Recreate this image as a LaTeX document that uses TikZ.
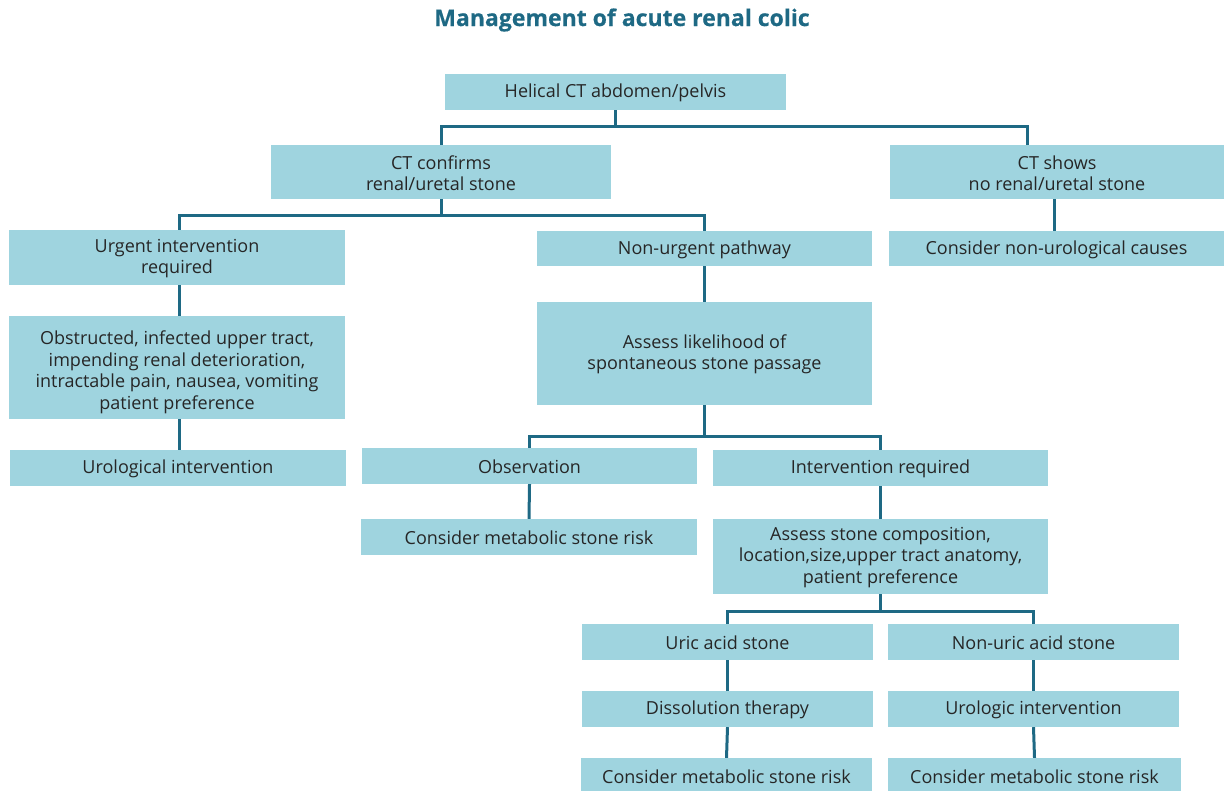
\documentclass[tikz,border=0pt]{standalone}
\usepackage{fontspec}
\setmainfont{Open Sans}
\definecolor{boxc}{HTML}{9FD4DF}
\definecolor{linec}{HTML}{1E6984}
\definecolor{txtc}{HTML}{262626}
\begin{document}
\begin{tikzpicture}[x=1pt,y=-1pt,
  box/.style={fill=boxc, draw=none, inner sep=0pt},
  txt/.style={inner sep=0pt, align=center, text=txtc, yshift=-1pt,
    font=\fontsize{18}{21.5}\selectfont},
  conn/.style={draw=linec, line width=3pt}]
\useasboundingbox (0,0) rectangle (1225,790);
\node[font=\bfseries\addfontfeature{FakeBold=0.4}\fontsize{23}{26}\selectfont, text=linec] (title) at (622,20) {Management of acute renal colic};
\node[box, minimum width=341pt, minimum height=36pt, label={[txt]center:{Helical CT abdomen/pelvis}}] (helical) at (615.5,92) {};
\node[box, minimum width=340pt, minimum height=54pt, label={[txt]center:{CT confirms\\renal/uretal stone}}] (confirms) at (441,172) {};
\node[box, minimum width=334pt, minimum height=54pt, label={[txt]center:{CT shows\\no renal/uretal stone}}] (noct) at (1057,172) {};
\node[box, minimum width=336pt, minimum height=55pt, label={[txt]center:{Urgent intervention\\required}}] (urgent) at (177,257.5) {};
\node[box, minimum width=335pt, minimum height=35pt, label={[txt]center:{Non-urgent pathway}}] (nonurg) at (704.5,248.5) {};
\node[box, minimum width=335pt, minimum height=35pt, label={[txt]center:{Consider non-urological causes}}] (nonuro) at (1056.5,248.5) {};
\node[box, minimum width=336pt, minimum height=103pt, label={[txt, yshift=-4pt]center:{Obstructed, infected upper tract,\\impending renal deterioration,\\intractable pain, nausea, vomiting\\patient preference}}] (obstr) at (177,367.5) {};
\node[box, minimum width=336pt, minimum height=36pt, label={[txt]center:{Urological intervention}}] (urolog) at (178,468) {};
\node[box, minimum width=335pt, minimum height=103pt, label={[txt]center:{Assess likelihood of\\spontaneous stone passage}}] (assess) at (704.5,353.5) {};
\node[box, minimum width=335pt, minimum height=36pt, label={[txt]center:{Observation}}] (obs) at (529.5,466) {};
\node[box, minimum width=335pt, minimum height=36pt, label={[txt]center:{Intervention required}}] (intreq) at (880.5,468) {};
\node[box, minimum width=336pt, minimum height=36pt, label={[txt]center:{Consider metabolic stone risk}}] (met1) at (529,537) {};
\node[box, minimum width=335pt, minimum height=75pt, label={[txt]center:{Assess stone composition,\\location,size,upper tract anatomy,\\patient preference}}] (comp) at (880.5,556.5) {};
\node[box, minimum width=291pt, minimum height=36pt, label={[txt]center:{Uric acid stone}}] (uric) at (727.5,642) {};
\node[box, minimum width=291pt, minimum height=36pt, label={[txt]center:{Non-uric acid stone}}] (nonuric) at (1033.5,642) {};
\node[box, minimum width=291pt, minimum height=36pt, label={[txt]center:{Dissolution therapy}}] (diss) at (727.5,709) {};
\node[box, minimum width=291pt, minimum height=36pt, label={[txt]center:{Urologic intervention}}] (urologic) at (1033.5,709) {};
\node[box, minimum width=291pt, minimum height=36pt, label={[txt]center:{Consider metabolic stone risk}}] (met2) at (726.5,776) {};
\node[box, minimum width=293pt, minimum height=36pt, label={[txt]center:{Consider metabolic stone risk}}] (met3) at (1034.5,776) {};
% connectors
\draw[conn] (helical.south) -- ++(0,-16pt) coordinate (j1);
\draw[conn] (confirms.north) |- (j1) -| ([xshift=-30pt]noct.north);
\draw[conn] (confirms.south) -- ++(0,-16pt) coordinate (j2);
\draw[conn] ([xshift=2pt]urgent.north) |- (j2) -| (nonurg.north);
\draw[conn] ([xshift=-3pt]noct.south) -- ([xshift=-2.5pt]nonuro.north);
\draw[conn] ([xshift=2pt]urgent.south) -- ([xshift=2pt]obstr.north);
\draw[conn] ([xshift=2pt]obstr.south) -- ([xshift=1pt]urolog.north);
\draw[conn] (nonurg.south) -- (assess.north);
\draw[conn] (assess.south) -- ++(0,-31pt) coordinate (j3);
\draw[conn] (obs.north) |- (j3) -| (intreq.north);
\draw[conn] (obs.south) -- (met1.north);
\draw[conn] (intreq.south) -- (comp.north);
\draw[conn] (comp.south) -- ++(0,-17pt) coordinate (j4);
\draw[conn] (uric.north) |- (j4) -| (nonuric.north);
\draw[conn] (uric.south) -- (diss.north);
\draw[conn] (diss.south) -- (met2.north);
\draw[conn] (nonuric.south) -- (urologic.north);
\draw[conn] (urologic.south) -- (met3.north);
\end{tikzpicture}
\end{document}
